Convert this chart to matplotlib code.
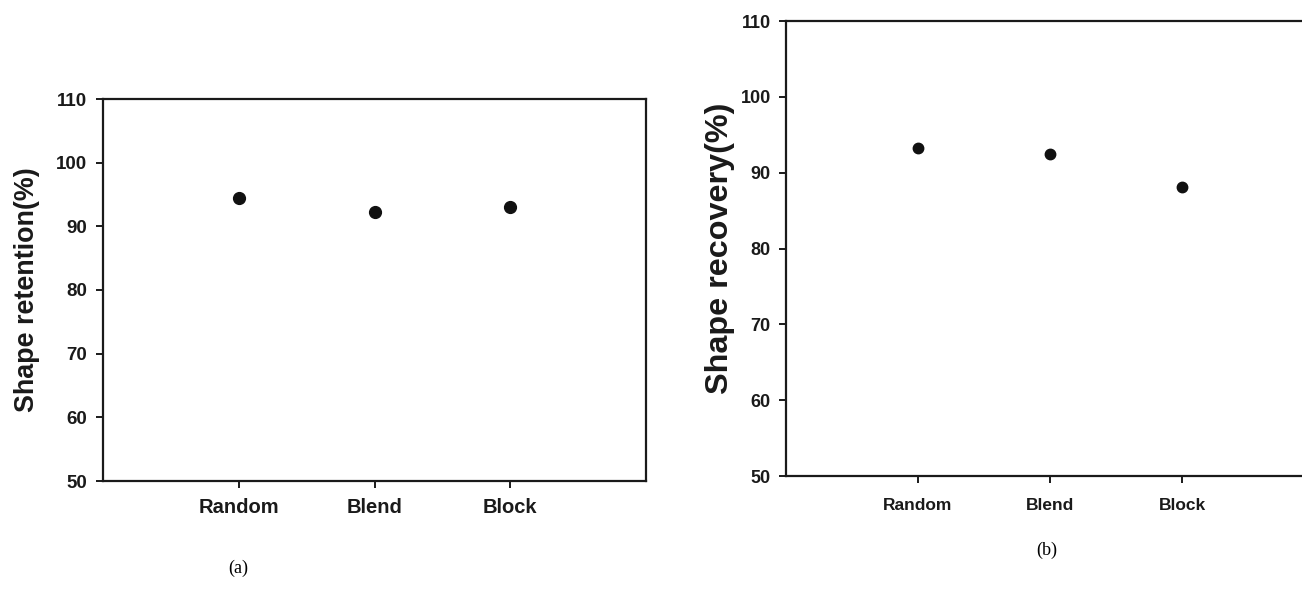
import matplotlib
matplotlib.use('Agg')
import matplotlib.pyplot as plt

# data
categories = ['Random', 'Blend', 'Block']
cat_pos = [1, 2, 3]
retention = [94.4, 92.3, 93.0]
recovery = [93.2, 92.4, 88.1]
yticks = [50, 60, 70, 80, 90, 100, 110]

W, H = 1302, 605
fig = plt.figure(figsize=(W / 100, H / 100), dpi=100)
INK = '#1a1a1a'


def make_ax(left, top, right, bottom):
    return fig.add_axes([left / W, 1 - bottom / H, (right - left) / W, (bottom - top) / H])


def style(ax, ytick_size, xtick_size, xpad, ypad):
    ax.set_xlim(0, 4)
    ax.set_ylim(50, 110)
    ax.set_yticks(yticks)
    ax.set_xticks(cat_pos)
    ax.set_xticklabels(categories)
    for s in ax.spines.values():
        s.set_linewidth(1.6)
        s.set_color(INK)
    ax.tick_params(direction='out', length=5, width=1.4, color=INK)
    ax.tick_params(axis='x', pad=xpad)
    ax.tick_params(axis='y', pad=ypad)
    for t in ax.get_yticklabels():
        t.set_fontsize(ytick_size)
    for t in ax.get_xticklabels():
        t.set_fontsize(xtick_size)
    for t in ax.get_xticklabels() + ax.get_yticklabels():
        t.set_fontfamily('Liberation Sans')
        t.set_fontweight('bold')
        t.set_color(INK)


# (a) shape retention
ax1 = make_ax(103, 99, 646, 481)
ax1.plot(cat_pos, retention, 'o', color='#111111', markersize=8.5, linestyle='none')
style(ax1, 13.5, 14.5, 7.5, 6.5)
fig.text(27 / W, 1 - 290 / H, 'Shape retention(%)', rotation=90, ha='center', va='center',
         family='Liberation Sans', fontweight='bold', fontsize=19.4, color=INK)
fig.text(238 / W, 1 - 568 / H, '(a)', family='Liberation Serif', fontsize=13,
         ha='center', va='center')

# (b) shape recovery, cut off at right edge
ax2 = make_ax(786, 21, 1314, 476)
ax2.plot(cat_pos, recovery, 'o', color='#111111', markersize=7.5, linestyle='none')
style(ax2, 13, 12.5, 11, 6)
fig.text(720 / W, 1 - 248 / H, 'Shape recovery(%)', rotation=90, ha='center', va='center',
         family='Liberation Sans', fontweight='bold', fontsize=23.3, color=INK)
fig.text(1047 / W, 1 - 550 / H, '(b)', family='Liberation Serif', fontsize=13,
         ha='center', va='center')

fig.savefig('out.png', dpi=100)
